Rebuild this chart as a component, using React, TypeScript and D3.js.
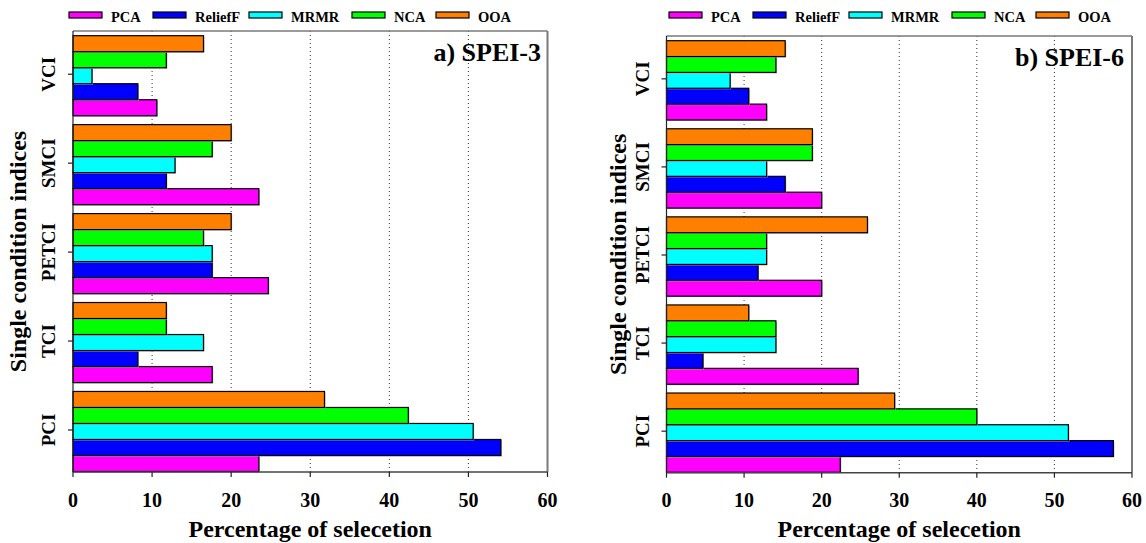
import React from "react";
import * as d3 from "d3";

const categories = ["VCI", "SMCI", "PETCI", "TCI", "PCI"];
const methods = ["PCA", "ReliefF", "MRMR", "NCA", "OOA"];
const methodColors = ["#ff00ff", "#0000ff", "#00ffff", "#00ff00", "#ff8000"];
const xTicks = [0, 10, 20, 30, 40, 50, 60];

// SPEI-3 (values per method, in category order)
const spei3PCA = [10.6, 23.5, 24.7, 17.6, 23.5];
const spei3ReliefF = [8.2, 11.8, 17.6, 8.2, 54.1];
const spei3MRMR = [2.4, 12.9, 17.6, 16.5, 50.6];
const spei3NCA = [11.8, 17.6, 16.5, 11.8, 42.4];
const spei3OOA = [16.5, 20.0, 20.0, 11.8, 31.8];

// SPEI-6
const spei6PCA = [12.9, 20.0, 20.0, 24.7, 22.4];
const spei6ReliefF = [10.6, 15.3, 11.8, 4.7, 57.6];
const spei6MRMR = [8.2, 12.9, 12.9, 14.1, 51.8];
const spei6NCA = [14.1, 18.8, 12.9, 14.1, 40.0];
const spei6OOA = [15.3, 18.8, 25.9, 10.6, 29.4];

const FONT = "'Liberation Serif', 'Times New Roman', serif";

type PanelProps = {
  title: string;
  series: number[][];
  x0: number;
  x1: number;
  yTop: number;
  yBottom: number;
  barTop: number;
  barBottom: number;
  dx: number;
  titleRight: number;
};

const legendTextOffsets = [42, 126, 222, 325, 409];

function Panel(p: PanelProps) {
  const x = d3.scaleLinear().domain([0, 60]).range([p.x0, p.x1]);
  const y = d3
    .scaleBand<string>()
    .domain(categories)
    .range([p.barTop, p.barBottom])
    .paddingInner(0.1)
    .paddingOuter(0);
  const inner = d3
    .scaleBand<string>()
    .domain([...methods].reverse())
    .range([0, y.bandwidth()]);

  const legendX0 = p.dx + 69;
  return (
    <g>
      {/* legend */}
      {methods.map((m, i) => {
        const tx = legendX0 + legendTextOffsets[i];
        return (
          <g key={m}>
            <rect x={tx - 42} y={12} width={33} height={6} fill={methodColors[i]} stroke="#000" strokeWidth={1.2} />
            <text x={tx} y={22} fontFamily={FONT} fontWeight="bold" fontSize={14.5} fill="#000">
              {m}
            </text>
          </g>
        );
      })}
      {/* gridlines */}
      {xTicks.slice(1, -1).map((t) => (
        <line key={t} x1={x(t)} x2={x(t)} y1={p.yTop} y2={p.yBottom} stroke="#333" strokeWidth={1} strokeDasharray="1,3" />
      ))}
      {/* bars */}
      {categories.map((c, ci) =>
        methods.map((m, mi) => {
          const yy = (y(c) ?? 0) + (inner(m) ?? 0);
          const w = x(p.series[mi][ci]) - x(0);
          return (
            <g key={c + m}>
              <rect x={x(0) + 1} y={yy + 1} width={w} height={inner.bandwidth()} fill="#b0b0b0" />
              <rect x={x(0)} y={yy} width={w} height={inner.bandwidth()} fill={methodColors[mi]} stroke="#000" strokeWidth={1.2} />
            </g>
          );
        })
      )}
      {/* frame */}
      <line x1={p.x0} x2={p.x1} y1={p.yTop} y2={p.yTop} stroke="#7a7a7a" strokeWidth={1.5} />
      <line x1={p.x1} x2={p.x1} y1={p.yTop} y2={p.yBottom} stroke="#7a7a7a" strokeWidth={2} />
      <line x1={p.x0} x2={p.x1} y1={p.yBottom} y2={p.yBottom} stroke="#444" strokeWidth={1.5} />
      <line x1={p.x0} x2={p.x0} y1={p.yTop} y2={p.yBottom} stroke="#222" strokeWidth={1.2} />
      {/* x ticks */}
      {xTicks.map((t) => (
        <g key={t}>
          <line x1={x(t)} x2={x(t)} y1={p.yBottom} y2={p.yBottom + 5} stroke="#222" strokeWidth={1.2} />
          <text x={x(t)} y={507} textAnchor="middle" fontFamily={FONT} fontWeight="bold" fontSize={20} fill="#000">
            {t}
          </text>
        </g>
      ))}
      {/* y ticks */}
      {categories.map((c) => {
        const cy = (y(c) ?? 0) + y.bandwidth() / 2 - 1.5;
        return (
          <g key={c}>
            <line x1={p.x0 - 5} x2={p.x0} y1={cy} y2={cy} stroke="#222" strokeWidth={1.2} />
            <text
              transform={`translate(${p.x0 - 18},${cy}) rotate(-90)`}
              textAnchor="middle"
              fontFamily={FONT}
              fontWeight="bold"
              fontSize={19}
              fill="#000"
            >
              {c}
            </text>
          </g>
        );
      })}
      {/* axis titles */}
      <text x={(p.x0 + p.x1) / 2} y={537} textAnchor="middle" fontFamily={FONT} fontWeight="bold" fontSize={24} fill="#000">
        Percentage of selecetion
      </text>
      <text
        transform={`translate(${p.dx + 26},${(p.yTop + p.yBottom) / 2}) rotate(-90)`}
        textAnchor="middle"
        fontFamily={FONT}
        fontWeight="bold"
        fontSize={24}
        fill="#000"
      >
        Single condition indices
      </text>
      {/* panel title */}
      <text x={p.titleRight} y={p.yTop + 30} textAnchor="end" fontFamily={FONT} fontWeight="bold" fontSize={26} fill="#000">
        {p.title}
      </text>
    </g>
  );
}

export default function App() {
  const s3 = [spei3PCA, spei3ReliefF, spei3MRMR, spei3NCA, spei3OOA];
  const s6 = [spei6PCA, spei6ReliefF, spei6MRMR, spei6NCA, spei6OOA];
  return (
    <svg width={1146} height={543} style={{ position: "absolute", left: 0, top: 0, background: "#fff" }}>
      <rect x={0} y={0} width={1146} height={543} fill="#fff" />
      <Panel title="a) SPEI-3" series={s3} x0={73} x1={547.5} yTop={31} yBottom={472} barTop={35.7} barBottom={471.5} dx={0} titleRight={541} />
      <Panel title="b) SPEI-6" series={s6} x0={666.5} x1={1132} yTop={36} yBottom={472.7} barTop={40.7} barBottom={472.3} dx={600} titleRight={1124} />
    </svg>
  );
}
